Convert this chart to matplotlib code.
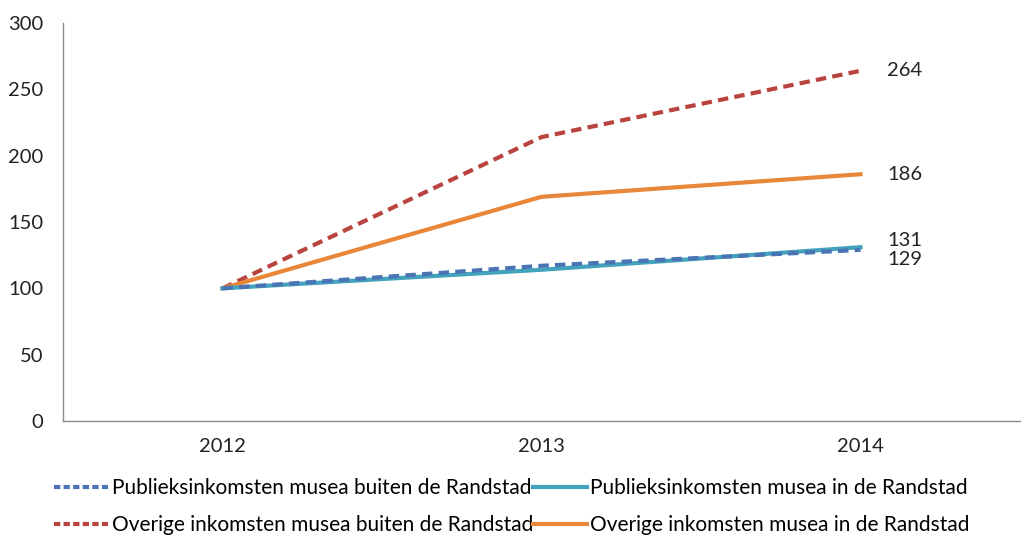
import matplotlib
matplotlib.use("Agg")
import matplotlib.pyplot as plt
from matplotlib.lines import Line2D

years = ["2012", "2013", "2014"]
publiek_buiten = [100, 117, 129]
publiek_in = [100, 114, 131]
overig_buiten = [100, 214, 264]
overig_in = [100, 169, 186]
labels = [
    "Publieksinkomsten musea buiten de Randstad",
    "Publieksinkomsten musea in de Randstad",
    "Overige inkomsten musea buiten de Randstad",
    "Overige inkomsten musea in de Randstad",
]
yticks = [0, 50, 100, 150, 200, 250, 300]

plt.rcParams['font.family'] = ['Lato', 'DejaVu Sans']

fig = plt.figure(figsize=(10.24, 5.39), dpi=100)
ax = fig.add_axes([63/1024, 1-421/539, (1020-63)/1024, (421-23)/539])

x = list(range(len(years)))
c_pb, c_pi, c_ob, c_oi = "#4a74b4", "#43a3bd", "#b9433f", "#e8873a"
ax.plot(x, overig_buiten, color=c_ob, lw=3, ls=(0, (2.5, 1.5)), zorder=3)
ax.plot(x, overig_in, color=c_oi, lw=3, zorder=3)
ax.plot(x, publiek_in, color=c_pi, lw=3, zorder=3)
ax.plot(x, publiek_buiten, color=c_pb, lw=3, ls=(0, (2.5, 1.5)), zorder=4)

ax.set_xlim(-0.5, 2.5)
ax.set_ylim(0, 300)
ax.set_yticks(yticks)
ax.set_xticks(x)
ax.set_xticklabels(years)
ax.tick_params(axis='both', length=0, labelsize=14.5, colors="#222222")
ax.tick_params(axis='y', pad=14)
ax.tick_params(axis='x', pad=12)
for s in ["top", "right"]:
    ax.spines[s].set_visible(False)
for s in ["left", "bottom"]:
    ax.spines[s].set_color("#8c8c8c")
    ax.spines[s].set_linewidth(1)

# end labels
ends = [(overig_buiten[-1], 0), (overig_in[-1], 0), (publiek_in[-1], 5), (publiek_buiten[-1], -7)]
for val, dy in ends:
    ax.annotate(str(val), xy=(x[-1], val), xytext=(19, dy), textcoords="offset points",
                va="center", ha="left", fontsize=14.5, color="#222222")

handles = [
    Line2D([], [], color=c_pb, lw=3, ls=(0, (1.5, 0.8))),
    Line2D([], [], color=c_ob, lw=3, ls=(0, (1.5, 0.8))),
    Line2D([], [], color=c_pi, lw=3),
    Line2D([], [], color=c_oi, lw=3),
]
order_labels = [labels[0], labels[2], labels[1], labels[3]]
fig.legend(handles, order_labels, ncol=2, loc="center", bbox_to_anchor=(0.5, 0.06),
           frameon=False, fontsize=15, handlelength=2.6, handletextpad=0.15,
           columnspacing=0.0, labelspacing=0.8)

fig.savefig("out.png", dpi=100)
